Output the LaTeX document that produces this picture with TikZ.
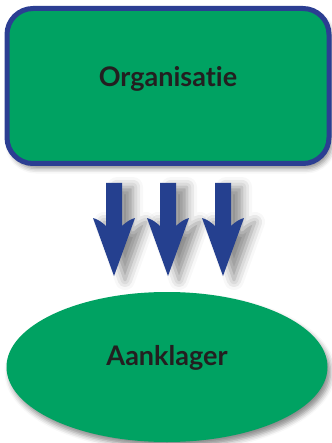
\documentclass[tikz,border=0pt]{standalone}
\usepackage{fontspec}
\setmainfont{Lato}[Ligatures={NoCommon}]
\usetikzlibrary{shapes.geometric,shadows.blur}
\definecolor{boxgreen}{HTML}{00A262}
\definecolor{edgeblue}{HTML}{2B3E92}
\definecolor{arrowblue}{HTML}{25408F}
\definecolor{inkdark}{HTML}{231F20}
\tikzset{
  soft/.style={blur shadow={shadow xshift=3pt, shadow yshift=-5pt, shadow blur radius=5pt, shadow opacity=45}},
  arrowshadow/.style={blur shadow={shadow xshift=11pt, shadow yshift=-4pt, shadow blur radius=10pt, shadow opacity=45}},
  boxlabel/.style={text=inkdark, font=\bfseries\fontsize{27}{32}\selectfont},
  downarrow/.style={fill=arrowblue, draw=none, arrowshadow}
}
\begin{document}
\begin{tikzpicture}[x=1pt, y=-1pt]
\useasboundingbox (0,0) rectangle (331,443);
% top box
\node[draw=edgeblue, line width=5pt, fill=boxgreen, rounded corners=26pt,
      minimum width=322pt, minimum height=155pt, soft] (org) at (168,86) {};
\node[boxlabel] (orgtext) at (168,79) {Organisatie};
% three arrows with barbed heads
\foreach \cx [count=\i] in {114,168,223} {
  \path[downarrow]
    (\cx-8,183) -- (\cx+8,183) -- (\cx+8,226)
    .. controls (\cx+12,222) and (\cx+17,219) .. (\cx+21,218)
    -- (\cx,276) -- (\cx-21,218)
    .. controls (\cx-17,219) and (\cx-12,222) .. (\cx-8,226) -- cycle;
}
% bottom ellipse
\node[ellipse, fill=boxgreen, minimum width=321pt, minimum height=150pt,
      inner sep=0pt, soft] (acc) at (167,367) {};
\node[boxlabel] (acctext) at (167,358) {Aanklager};
\end{tikzpicture}
\end{document}
